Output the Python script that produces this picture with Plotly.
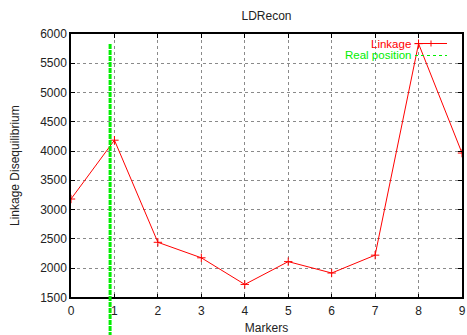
import plotly.graph_objects as go

# LD reconstruction scores per marker
markers = [0, 1, 2, 3, 4, 5, 6, 7, 8, 9]
linkage = [3180, 4185, 2440, 2175, 1720, 2110, 1915, 2220, 5835, 3965]
real_position = 0.9

x_ticks = list(range(10))
y_ticks = [1500, 2000, 2500, 3000, 3500, 4000, 4500, 5000, 5500, 6000]

W, H = 467, 335
M_L, M_R, M_T, M_B = 71, 5, 34, 0
plot_h = H - M_T - M_B
plot_w = W - M_L - M_R

# main plot area sits above the axis labels; a second full-height
# overlay lets the position marker run past the bottom axis
y_dom0 = 37.7 / plot_h
y_lo, y_hi = 1500, 6000
y2_lo = y_lo - (y_hi - y_lo) * y_dom0 / (1 - y_dom0)

font_family = "Liberation Sans, Arial, sans-serif"
red = "#ff0000"
green = "#00ee00"

fig = go.Figure()

fig.add_trace(go.Scatter(
    x=markers, y=linkage, name="Linkage", mode="lines+markers",
    line=dict(color=red, width=1),
    marker=dict(symbol="cross-thin", size=6, line=dict(color=red, width=1)),
    xaxis="x", yaxis="y", showlegend=False,
))

fig.add_trace(go.Scatter(
    x=[real_position, real_position], y=[0, max(linkage)], name="Real position",
    mode="lines", line=dict(color=green, width=3, dash="5px,1px"),
    xaxis="x2", yaxis="y2", showlegend=False,
))

axis_common = dict(
    showline=True, linecolor="black", linewidth=1.5, mirror="ticks",
    ticks="inside", ticklen=4, tickcolor="black", tickwidth=1,
    showgrid=True, gridcolor="#8a8a8a", griddash="dot", gridwidth=1,
    zeroline=False, automargin=False,
    tickfont=dict(family=font_family, size=12, color="#222"),
)

fig.update_layout(
    width=W, height=H,
    margin=dict(l=M_L, r=M_R, t=M_T, b=M_B, autoexpand=False),
    paper_bgcolor="white", plot_bgcolor="rgba(0,0,0,0)",
    font=dict(family=font_family, size=12, color="#222"),
    title=dict(text="LDRecon", x=0.5, xref="paper", xanchor="center",
               y=1 - 16 / H, yref="container", yanchor="middle",
               font=dict(size=12, color="#222")),
    xaxis=dict(range=[0, 9], tickvals=x_ticks, anchor="y",
               ticklabelstandoff=2,
               title=dict(text="Markers", standoff=6,
                          font=dict(size=12, color="#222")),
               **axis_common),
    yaxis=dict(range=[y_lo, y_hi], tickvals=y_ticks, domain=[y_dom0, 1],
               anchor="x",
               title=dict(text="Linkage Disequilibrium", standoff=18,
                          font=dict(size=12, color="#222")),
               **axis_common),
    xaxis2=dict(range=[0, 9], overlaying="x", anchor="y2", visible=False,
                showgrid=False),
    yaxis2=dict(range=[y2_lo, y_hi], domain=[0, 1], anchor="x2",
                visible=False, showgrid=False),
)

# key in the top-right corner: label text then a line sample
def px_x(px):
    return (px - M_L) / plot_w

def px_y(py):
    return 1 - (py - M_T) / plot_h

key = [("Linkage", red, 43.5, "solid", True), ("Real position", green, 55.5, "dot", False)]
for text, color, py, dash, has_mark in key:
    fig.add_annotation(text=text, xref="paper", yref="paper",
                       x=px_x(412), y=px_y(py), xanchor="right", yanchor="middle",
                       showarrow=False, borderpad=0,
                       font=dict(size=11.5, color=color))
    fig.add_shape(type="line", xref="paper", yref="paper",
                  x0=px_x(415), x1=px_x(447), y0=px_y(py), y1=px_y(py),
                  line=dict(color=color, width=1, dash=dash))
    if has_mark:
        fig.add_shape(type="line", xref="paper", yref="paper",
                      x0=px_x(431), x1=px_x(431), y0=px_y(py - 3), y1=px_y(py + 3),
                      line=dict(color=color, width=1))

fig.write_html("out.html")
